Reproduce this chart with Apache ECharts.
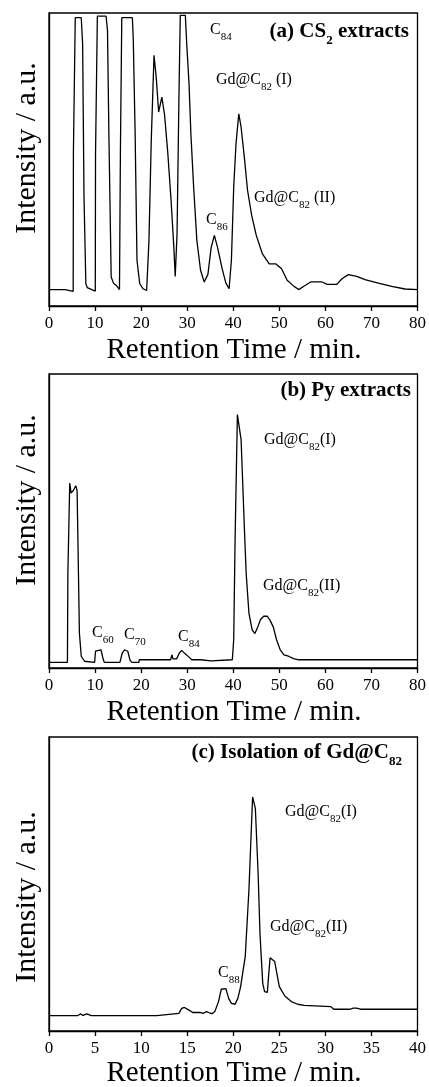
<!DOCTYPE html>
<html>
<head>
<meta charset="utf-8">
<script src="https://cdn.jsdelivr.net/npm/echarts@6/dist/echarts.min.js"></script>
<style>
  html, body { margin: 0; padding: 0; background: #fff; }
  #main { width: 429px; height: 1087px; }
</style>
</head>
<body>
<div id="main"></div>
<script>
// (a) CS2 extracts
var timeA = [0, 3.5, 3.9, 5.25, 5.3, 5.7, 7.0, 7.3, 7.6, 8.0, 8.3, 9.3, 10.05, 10.1, 10.5, 12.4, 12.7, 13.0, 13.5, 14.0, 14.7, 15.3, 15.5, 15.8, 18.1, 18.3, 18.7, 19.1, 19.7, 20.4, 21.2, 21.7, 22.2, 22.8, 23.3, 23.8, 24.5, 25.1, 25.8, 26.5, 27.1, 27.4, 27.8, 28.2, 28.5, 29.6, 29.9, 30.4, 30.8, 31.4, 32.1, 32.9, 33.7, 34.5, 35.2, 35.9, 36.6, 37.6, 38.4, 39.1, 39.6, 40.1, 40.6, 41.2, 41.7, 42.4, 43.1, 44.0, 45.0, 46.3, 47.8, 49.2, 50.5, 51.7, 53.2, 54.2, 55.5, 56.8, 59.3, 60.4, 62.5, 63.6, 65.0, 66.8, 68.6, 71.5, 74.4, 77.3, 80];
var intensA = [5.6, 5.6, 5.0, 5.0, 52.6, 98.4, 98.4, 89.5, 37.2, 7.6, 6.3, 5.6, 5.1, 51.8, 98.9, 98.9, 94, 58.8, 9.9, 7.8, 6.9, 5.6, 52, 98.4, 98.4, 90.7, 58.8, 15.6, 7.6, 5.9, 5.3, 22.4, 56.5, 85.6, 77.6, 66.2, 71.3, 65.1, 52, 36.1, 20.1, 10.1, 24.7, 70.2, 99.2, 99.2, 89.5, 75.9, 58.8, 40.6, 22.4, 12.2, 8.2, 10.8, 19.9, 24.1, 19.9, 12.7, 7.8, 5.9, 15.6, 40.6, 55.4, 65.6, 61.1, 50.9, 39.5, 30.9, 24.1, 17.9, 14.4, 14.4, 12.7, 8.8, 6.7, 5.6, 6.9, 8.2, 8.2, 7.4, 7.4, 9.3, 10.7, 10.1, 9.0, 7.8, 6.7, 5.8, 5.6];

// (b) Py extracts
var timeB = [0, 1.2, 1.4, 1.7, 4.0, 4.1, 4.5, 4.8, 5.3, 5.8, 6.1, 6.3, 6.6, 7.0, 7.7, 9.9, 10.1, 10.4, 11.3, 11.7, 12.0, 15.4, 15.9, 16.4, 17.1, 17.6, 18.0, 19.5, 19.6, 26.4, 26.7, 26.9, 27.7, 28.3, 28.8, 29.5, 30.4, 31.0, 32.9, 33.0, 35.2, 35.3, 39.8, 40.1, 40.4, 40.9, 41.3, 41.7, 42.0, 42.4, 42.8, 43.4, 44.1, 44.7, 45.3, 45.9, 46.6, 47.4, 48.0, 48.7, 49.4, 50.2, 51.0, 52.0, 53.1, 54.2, 80];
var intensB = [1.9, 1.9, 2.5, 1.9, 1.9, 32.3, 62.9, 59.5, 60.4, 62, 60.4, 41.4, 11.9, 4.0, 2.3, 1.9, 5.7, 6.2, 6.2, 3.4, 1.9, 1.9, 5.1, 6.2, 5.7, 2.6, 1.9, 1.9, 2.8, 2.8, 4.5, 3.1, 3.1, 5.1, 6.0, 4.9, 3.7, 2.8, 2.8, 2.4, 2.4, 2.8, 2.8, 9.6, 43.7, 86.2, 86.7, 77.7, 65.2, 48.2, 32.3, 18.7, 13.0, 11.7, 13.9, 16.4, 17.6, 17.6, 16.2, 13.9, 9.6, 6.2, 4.5, 4.0, 3.2, 2.8, 2.8];

// (c) Isolation of Gd@C82
var timeC = [0, 3.1, 3.4, 3.7, 4.1, 4.6, 11.7, 11.9, 14.1, 14.4, 14.7, 15.2, 15.6, 16.4, 16.7, 17.1, 17.4, 17.7, 18.0, 18.4, 18.7, 19.2, 19.5, 19.8, 20.2, 20.5, 20.8, 21.3, 21.7, 22.1, 22.4, 22.7, 22.9, 23.2, 23.4, 23.7, 23.8, 24.0, 24.5, 24.8, 25.0, 25.6, 26.3, 27.0, 27.7, 30.6, 30.9, 32.7, 33.0, 33.4, 33.8, 40];
var intensC = [5.2, 5.2, 5.8, 5.3, 5.8, 5.2, 5.2, 5.8, 6.0, 7.7, 8.0, 7.1, 6.3, 6.3, 6.0, 6.6, 6.2, 5.9, 6.6, 10.0, 14.2, 14.4, 11.1, 9.4, 9.1, 11.1, 15.1, 25.3, 47.9, 79.6, 75.7, 53.6, 33.2, 16.2, 13.4, 13.1, 17.3, 24.9, 23.6, 18.5, 15.1, 11.9, 10.0, 9.1, 8.7, 8.3, 7.4, 7.4, 7.8, 7.8, 7.4, 7.4];

var xTitle = 'Retention Time / min.';
var yTitle = 'Intensity / a.u.';

var FONT = '"Liberation Serif", "Times New Roman", serif';

function pairs(xs, ys) {
  return xs.map(function (x, i) { return [x, ys[i]]; });
}

var grids = [
  { left: 49, top: 13, width: 370, height: 293 },
  { left: 49, top: 374, width: 370, height: 294 },
  { left: 49, top: 737, width: 371, height: 294 }
];

function xAxisFor(i, max, interval) {
  return {
    gridIndex: i, type: 'value', min: 0, max: max, interval: interval,
    axisLine: { lineStyle: { color: '#000', width: 1.3 } },
    axisTick: { show: true, inside: false, length: 5, lineStyle: { color: '#000', width: 1.3 } },
    axisLabel: { color: '#000', fontFamily: FONT, fontSize: 17, margin: 9 },
    splitLine: { show: false }
  };
}
function yAxisFor(i) {
  return {
    gridIndex: i, type: 'value', min: 0, max: 100,
    axisLine: { show: true, lineStyle: { color: '#000', width: 1.3 } },
    axisTick: { show: false }, axisLabel: { show: false },
    splitLine: { show: false }
  };
}
function lineSeries(i, xs, ys) {
  return {
    type: 'line', xAxisIndex: i, yAxisIndex: i,
    data: pairs(xs, ys), symbol: 'none', animation: false,
    lineStyle: { color: '#000', width: 1.3 }
  };
}

// text styles: normal, subscript, bold, bold subscript  [size, weight, dy]
var styles = {
  n: [16, 'normal', 0],
  s: [11, 'normal', 10],
  b: [21, 'bold', 0],
  bs: [13, 'bold', 13]
};
var measureCtx = document.createElement('canvas').getContext('2d');

// label made of pieces placed side by side, subscripts dropped
// x is the left end, or the right end when alignRight is set
function label(x, y, parts, alignRight) {
  var children = [];
  var cx = 0;
  parts.forEach(function (p) {
    var st = styles[p[1]];
    var font = st[1] + ' ' + st[0] + 'px ' + FONT;
    measureCtx.font = font;
    children.push({
      type: 'text', x: cx, y: st[2],
      style: { text: p[0], font: font, fill: '#000', align: 'left', verticalAlign: 'top' }
    });
    cx += measureCtx.measureText(p[0]).width;
  });
  return { type: 'group', x: alignRight ? x - cx : x, y: y, children: children };
}
function xName(y) {
  return { type: 'text', x: 234, y: y, style: { text: xTitle, fontFamily: FONT, fontSize: 29, fill: '#000', align: 'center', verticalAlign: 'middle' } };
}
function yName(y) {
  return { type: 'text', x: 27, y: y, rotation: Math.PI / 2, style: { text: yTitle, fontFamily: FONT, fontSize: 30, fill: '#000', align: 'center', verticalAlign: 'middle' } };
}

var chart = echarts.init(document.getElementById('main'));
chart.setOption({
  animation: false,
  backgroundColor: '#fff',
  grid: grids.map(function (g) {
    return Object.assign({ show: true, borderColor: '#000', borderWidth: 1.3, backgroundColor: 'transparent' }, g);
  }),
  xAxis: [xAxisFor(0, 80, 10), xAxisFor(1, 80, 10), xAxisFor(2, 40, 5)],
  yAxis: [yAxisFor(0), yAxisFor(1), yAxisFor(2)],
  series: [
    lineSeries(0, timeA, intensA),
    lineSeries(1, timeB, intensB),
    lineSeries(2, timeC, intensC)
  ],
  graphic: [
    xName(350), xName(712), xName(1073),
    yName(148), yName(500), yName(897),
    // panel (a)
    label(409, 21, [['(a) CS', 'b'], ['2', 'bs'], [' extracts', 'b']], true),
    label(210, 22, [['C', 'n'], ['84', 's']]),
    label(216, 72, [['Gd@C', 'n'], ['82', 's'], [' (I)', 'n']]),
    label(254, 190, [['Gd@C', 'n'], ['82', 's'], [' (II)', 'n']]),
    label(206, 212, [['C', 'n'], ['86', 's']]),
    // panel (b)
    label(411, 380, [['(b) Py extracts', 'b']], true),
    label(264, 432, [['Gd@C', 'n'], ['82', 's'], ['(I)', 'n']]),
    label(263, 578, [['Gd@C', 'n'], ['82', 's'], ['(II)', 'n']]),
    label(92, 625, [['C', 'n'], ['60', 's']]),
    label(124, 627, [['C', 'n'], ['70', 's']]),
    label(178, 629, [['C', 'n'], ['84', 's']]),
    // panel (c)
    label(402, 742, [['(c) Isolation of Gd@C', 'b'], ['82', 'bs']], true),
    label(285, 804, [['Gd@C', 'n'], ['82', 's'], ['(I)', 'n']]),
    label(270, 919, [['Gd@C', 'n'], ['82', 's'], ['(II)', 'n']]),
    label(218, 965, [['C', 'n'], ['88', 's']])
  ]
});
</script>
</body>
</html>
